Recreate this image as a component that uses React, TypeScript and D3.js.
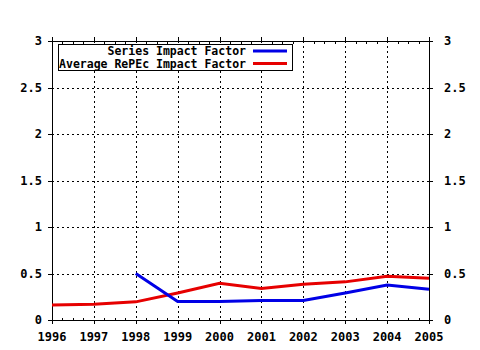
import React from "react";
import * as d3 from "d3";

// years on the x axis
const years = [1996, 1997, 1998, 1999, 2000, 2001, 2002, 2003, 2004, 2005];
// series impact factor (starts in 1998)
const seriesYears = [1998, 1999, 2000, 2001, 2002, 2003, 2004, 2005];
const seriesIF = [0.5, 0.2, 0.2, 0.21, 0.21, 0.29, 0.375, 0.33];
// average RePEc impact factor
const repecIF = [0.16, 0.17, 0.195, 0.29, 0.395, 0.34, 0.385, 0.41, 0.47, 0.45];
const yTicks = [0, 0.5, 1, 1.5, 2, 2.5, 3];
const yTickLabels = ["0", "0.5", "1", "1.5", "2", "2.5", "3"];
const legendLabels = ["Series Impact Factor", "Average RePEc Impact Factor"];
const legendColors = ["#0000e6", "#e60000"];

const W = 480;
const H = 350;
const left = 52;
const right = 429;
const top = 41;
const bottom = 320;
const font = "'DejaVu Sans Mono', monospace";

export default function App() {
  const x = d3.scaleLinear().domain([1996, 2005]).range([left, right]);
  const y = d3.scaleLinear().domain([0, 3]).range([bottom, top]);

  const line = d3
    .line<[number, number]>()
    .x((d) => x(d[0]))
    .y((d) => y(d[1]));

  const seriesPts: [number, number][] = seriesYears.map((yr, i) => [yr, seriesIF[i]]);
  const repecPts: [number, number][] = years.map((yr, i) => [yr, repecIF[i]]);

  const minor = d3.range(1996, 2005.001, 0.25).filter((v) => !years.includes(v));

  return (
    <svg width={W} height={H} style={{ position: "absolute", left: 0, top: 0, background: "#fff" }}>
      <rect x={0} y={0} width={W} height={H} fill="#fff" />
      {/* grid */}
      <g stroke="#000" strokeWidth={1} strokeDasharray="2,3" shapeRendering="crispEdges">
        {years.slice(1, -1).map((yr) => (
          <line key={"gx" + yr} x1={Math.round(x(yr)) + 0.5} x2={Math.round(x(yr)) + 0.5} y1={top} y2={bottom} />
        ))}
        {yTicks.slice(1, -1).map((v) => (
          <line key={"gy" + v} x1={left} x2={right} y1={Math.round(y(v)) + 0.5} y2={Math.round(y(v)) + 0.5} />
        ))}
      </g>
      {/* frame and ticks */}
      <g stroke="#000" strokeWidth={1} shapeRendering="crispEdges">
        <line x1={left + 0.5} x2={left + 0.5} y1={top} y2={bottom + 1} />
        <line x1={right + 0.5} x2={right + 0.5} y1={top} y2={bottom + 1} />
        <line x1={left - 4} x2={right + 4} y1={top + 0.5} y2={top + 0.5} />
        <line x1={left - 4} x2={right + 4} y1={bottom + 0.5} y2={bottom + 0.5} />
        {yTicks.map((v) => (
          <g key={"ty" + v}>
            <line x1={left - 4} x2={left} y1={Math.round(y(v)) + 0.5} y2={Math.round(y(v)) + 0.5} />
            <line x1={right} x2={right + 4} y1={Math.round(y(v)) + 0.5} y2={Math.round(y(v)) + 0.5} />
          </g>
        ))}
        {years.map((yr) => (
          <g key={"tx" + yr}>
            <line x1={Math.round(x(yr)) + 0.5} x2={Math.round(x(yr)) + 0.5} y1={bottom} y2={bottom + 4} />
            <line x1={Math.round(x(yr)) + 0.5} x2={Math.round(x(yr)) + 0.5} y1={top - 4} y2={top} />
          </g>
        ))}
        {minor.map((v) => (
          <g key={"mx" + v}>
            <line x1={Math.round(x(v)) + 0.5} x2={Math.round(x(v)) + 0.5} y1={bottom - 2} y2={bottom} />
            <line x1={Math.round(x(v)) + 0.5} x2={Math.round(x(v)) + 0.5} y1={top + 1} y2={top + 3} />
          </g>
        ))}
      </g>
      {/* data lines */}
      <path d={line(repecPts) || ""} fill="none" stroke={legendColors[1]} strokeWidth={3} />
      <path d={line(seriesPts) || ""} fill="none" stroke={legendColors[0]} strokeWidth={3} />
      {/* axis labels */}
      <g fontFamily={font} fontWeight="bold" fontSize={12} fill="#000">
        {yTicks.map((v, i) => (
          <g key={"ly" + v}>
            <text x={42} y={y(v) + 4} textAnchor="end">{yTickLabels[i]}</text>
            <text x={444} y={y(v) + 4} textAnchor="start">{yTickLabels[i]}</text>
          </g>
        ))}
        {years.map((yr) => (
          <text key={"lx" + yr} x={x(yr)} y={341} textAnchor="middle">{yr}</text>
        ))}
      </g>
      {/* legend */}
      <rect x={58.5} y={44.5} width={234} height={26} fill="#fff" stroke="#000" strokeWidth={1} shapeRendering="crispEdges" />
      <g fontFamily={font} fontWeight="bold" fontSize={11.5} fill="#000">
        {legendLabels.map((lab, i) => (
          <g key={lab}>
            <text x={246} y={55 + i * 12.5} textAnchor="end">{lab}</text>
            <line x1={253} x2={287} y1={51 + i * 12.5} y2={51 + i * 12.5} stroke={legendColors[i]} strokeWidth={3} />
          </g>
        ))}
      </g>
    </svg>
  );
}
